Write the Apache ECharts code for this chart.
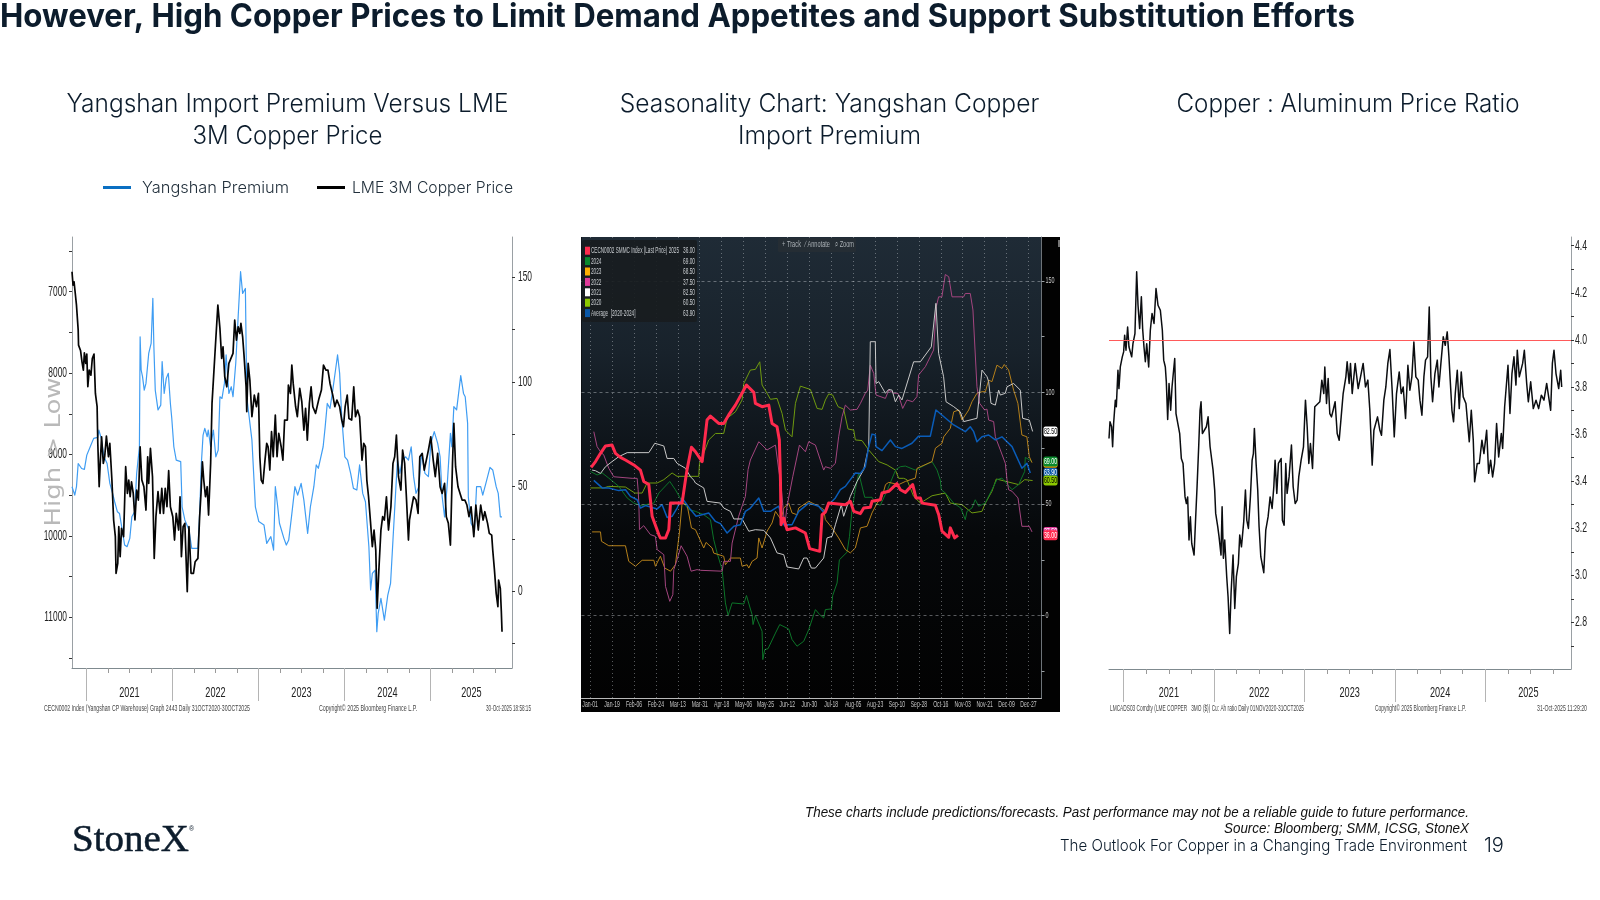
<!DOCTYPE html>
<html>
<head>
<meta charset="utf-8">
<title>Copper demand and substitution</title>
<style>html,body{margin:0;padding:0;background:#fff}#slide{width:1600px;height:900px}</style>
<script src="https://cdn.jsdelivr.net/npm/echarts@6/dist/echarts.min.js"></script>
</head>
<body>
<div id="slide"></div>
<script>
// Daily series sampled at their turning points: [decimal year, value]
const lmeCopper3m = [[2020.832,6755],[2020.844,6919],[2020.856,6878],[2020.868,7001],[2020.884,7165],[2020.904,7472],[2020.908,7656],[2020.932,7726],[2020.948,7861],[2020.964,7963],[2020.976,7750],[2020.992,7881],[2021.004,7767],[2021.016,8168],[2021.032,7963],[2021.052,8025],[2021.068,7820],[2021.088,7767],[2021.104,8250],[2021.124,8413],[2021.132,8864],[2021.148,9396],[2021.16,9109],[2021.176,8782],[2021.196,9109],[2021.212,9028],[2021.232,8774],[2021.256,9028],[2021.272,8864],[2021.296,9314],[2021.316,9805],[2021.336,10010],[2021.344,10460],[2021.364,10338],[2021.376,9887],[2021.392,10256],[2021.408,9908],[2021.432,10010],[2021.456,9150],[2021.476,9478],[2021.492,9314],[2021.508,9519],[2021.524,9335],[2021.544,9478],[2021.564,9805],[2021.584,9437],[2021.604,9560],[2021.624,8905],[2021.644,9314],[2021.668,9396],[2021.692,9683],[2021.712,9028],[2021.724,9355],[2021.744,8925],[2021.768,9273],[2021.788,10276],[2021.808,9764],[2021.832,9457],[2021.856,9724],[2021.876,9416],[2021.896,9724],[2021.916,9416],[2021.936,9642],[2021.956,9199],[2021.976,9642],[2022.004,9764],[2022.024,10051],[2022.044,9724],[2022.072,9928],[2022.088,9519],[2022.104,10256],[2022.124,9887],[2022.144,9846],[2022.172,10686],[2022.192,9887],[2022.216,10460],[2022.244,10460],[2022.264,10317],[2022.296,10276],[2022.316,9764],[2022.332,9478],[2022.348,9089],[2022.364,9314],[2022.384,9519],[2022.404,9396],[2022.42,9744],[2022.444,9109],[2022.46,8372],[2022.476,8372],[2022.492,7799],[2022.508,7513],[2022.528,7165],[2022.552,7451],[2022.572,7820],[2022.588,7677],[2022.608,8045],[2022.632,8168],[2022.656,7881],[2022.676,7881],[2022.704,7758],[2022.724,7349],[2022.744,7595],[2022.764,7431],[2022.784,7513],[2022.796,7390],[2022.816,7554],[2022.832,7779],[2022.856,8168],[2022.864,8475],[2022.88,7881],[2022.9,8086],[2022.924,8536],[2022.952,8270],[2022.976,8413],[2023.0,8250],[2023.016,9028],[2023.032,9314],[2023.052,9355],[2023.076,9069],[2023.096,8864],[2023.112,8905],[2023.132,9191],[2023.152,8720],[2023.172,9028],[2023.196,8516],[2023.216,9028],[2023.236,8741],[2023.264,8905],[2023.284,9069],[2023.304,8577],[2023.336,8577],[2023.348,8147],[2023.372,8250],[2023.388,7902],[2023.404,8127],[2023.432,8413],[2023.452,8536],[2023.48,8188],[2023.504,8352],[2023.528,8700],[2023.548,8434],[2023.568,8823],[2023.592,8372],[2023.612,8168],[2023.632,8413],[2023.664,8495],[2023.704,8311],[2023.732,8209],[2023.756,7902],[2023.784,7963],[2023.808,7963],[2023.832,8127],[2023.864,8270],[2023.888,8413],[2023.912,8331],[2023.944,8413],[2023.968,8577],[2023.988,8659],[2024.008,8413],[2024.032,8270],[2024.052,8557],[2024.084,8577],[2024.108,8168],[2024.128,8536],[2024.152,8454],[2024.176,8536],[2024.204,9069],[2024.224,8864],[2024.244,8905],[2024.26,9314],[2024.28,9519],[2024.304,9846],[2024.324,10133],[2024.344,9928],[2024.364,10174],[2024.38,10890],[2024.4,10420],[2024.424,9928],[2024.444,9764],[2024.464,9805],[2024.488,9519],[2024.512,9928],[2024.54,9642],[2024.564,9109],[2024.584,9028],[2024.604,8761],[2024.628,9273],[2024.656,9437],[2024.676,8946],[2024.70,9109],[2024.72,9519],[2024.744,10051],[2024.756,9805],[2024.776,9683],[2024.804,9519],[2024.832,9560],[2024.856,9724],[2024.876,9028],[2024.904,8987],[2024.928,9191],[2024.952,9069],[2024.976,8946],[2025.004,8782],[2025.032,9069],[2025.056,9273],[2025.084,8987],[2025.112,9396],[2025.136,9478],[2025.164,9355],[2025.184,9764],[2025.208,9846],[2025.232,10113],[2025.256,9109],[2025.272,8618],[2025.292,9150],[2025.32,9396],[2025.344,9478],[2025.368,9560],[2025.4,9560],[2025.424,9621],[2025.448,9764],[2025.472,9642],[2025.504,10010],[2025.528,9621],[2025.556,9928],[2025.584,9621],[2025.612,9805],[2025.632,9703],[2025.664,9846],[2025.684,9969],[2025.712,9990],[2025.724,10174],[2025.744,10420],[2025.764,10706],[2025.784,10870],[2025.792,10543],[2025.812,10645],[2025.824,10932],[2025.832,11177]];
const yangshanPremium = [[2020.832,49.9],[2020.864,45.9],[2020.884,49.9],[2020.904,61],[2020.944,58.6],[2020.976,58.2],[2021.004,65],[2021.024,64.2],[2021.044,69],[2021.084,73],[2021.132,73.5],[2021.144,77],[2021.172,73],[2021.204,64.2],[2021.24,61],[2021.272,51.5],[2021.304,46.7],[2021.328,42.7],[2021.36,37.9],[2021.384,37.1],[2021.416,29.2],[2021.444,22],[2021.472,21.2],[2021.504,25.2],[2021.528,35.5],[2021.56,37.9],[2021.584,56.3],[2021.616,69],[2021.624,121.6],[2021.636,105.7],[2021.652,102.5],[2021.672,96.1],[2021.692,99.3],[2021.724,113.6],[2021.752,118.4],[2021.772,140],[2021.784,116.8],[2021.8,96.1],[2021.832,86.6],[2021.864,88.9],[2021.88,109.7],[2021.904,94.5],[2021.928,101.7],[2021.952,104.1],[2021.976,89.7],[2021.992,82.6],[2022.016,69],[2022.044,62.6],[2022.096,61.9],[2022.112,40.3],[2022.144,34],[2022.192,29.2],[2022.224,20.4],[2022.296,20.4],[2022.316,37.1],[2022.336,61],[2022.356,74.6],[2022.376,77.8],[2022.404,73.8],[2022.416,77],[2022.444,69],[2022.476,77],[2022.504,64.2],[2022.532,67.4],[2022.552,92.9],[2022.576,92.1],[2022.604,99.3],[2022.624,112.9],[2022.656,94.5],[2022.684,97.7],[2022.704,92.9],[2022.736,108.9],[2022.764,131.2],[2022.792,152.7],[2022.816,142.3],[2022.848,144.7],[2022.864,92.9],[2022.896,81.8],[2022.924,72.2],[2022.944,56.3],[2022.964,40.3],[2023.004,33.2],[2023.064,31.6],[2023.096,22.8],[2023.144,26],[2023.176,19.6],[2023.196,49.9],[2023.224,40.3],[2023.244,32.4],[2023.296,25.2],[2023.324,22],[2023.352,24.4],[2023.384,35.5],[2023.424,49.9],[2023.456,45.9],[2023.496,51.5],[2023.528,43.5],[2023.572,27.6],[2023.604,40.3],[2023.644,49.9],[2023.672,60.3],[2023.696,58.7],[2023.752,69],[2023.776,78.6],[2023.8,89.7],[2023.832,87.3],[2023.864,96.1],[2023.896,105.7],[2023.92,112.9],[2023.944,104.1],[2023.968,83.4],[2024.004,64.2],[2024.036,62.6],[2024.072,56.3],[2024.104,49.1],[2024.144,48.3],[2024.176,60.3],[2024.212,46.7],[2024.244,42.7],[2024.284,21.2],[2024.304,0.5],[2024.324,8.4],[2024.356,10],[2024.376,-19.4],[2024.392,-10.7],[2024.424,-3.5],[2024.464,-13.9],[2024.504,-1.9],[2024.536,3.7],[2024.564,24.4],[2024.592,45.1],[2024.616,62.6],[2024.644,56.3],[2024.672,62.6],[2024.712,64.2],[2024.744,62.6],[2024.776,69],[2024.804,54.7],[2024.832,46.7],[2024.864,49.9],[2024.896,65.8],[2024.936,56.3],[2024.976,54.7],[2025.004,70.6],[2025.044,76.2],[2025.084,70.6],[2025.112,64.2],[2025.136,45.1],[2025.164,35.5],[2025.196,51.5],[2025.232,75.4],[2025.248,69],[2025.272,88.2],[2025.304,86.6],[2025.352,103],[2025.384,94.5],[2025.404,92.9],[2025.432,80.2],[2025.44,45.1],[2025.472,32.4],[2025.512,29.2],[2025.536,49.9],[2025.584,49.9],[2025.608,45.9],[2025.644,51.5],[2025.692,59.1],[2025.724,57.9],[2025.764,49.9],[2025.788,46.7],[2025.812,35.5],[2025.832,35.5]];
const copperAluminumRatio = [[2020.838,3.581],[2020.849,3.652],[2020.867,3.631],[2020.878,3.546],[2020.889,3.645],[2020.908,3.744],[2020.919,3.716],[2020.937,3.871],[2020.948,3.793],[2020.963,3.885],[2020.985,3.928],[2021.0,3.949],[2021.011,4.02],[2021.026,3.956],[2021.044,4.055],[2021.059,3.97],[2021.074,3.977],[2021.089,3.928],[2021.103,3.984],[2021.125,4.027],[2021.144,4.289],[2021.159,4.147],[2021.177,4.048],[2021.196,4.183],[2021.21,4.048],[2021.225,3.97],[2021.24,3.907],[2021.255,3.984],[2021.277,3.885],[2021.295,4.041],[2021.314,4.112],[2021.336,4.07],[2021.358,4.218],[2021.38,4.147],[2021.406,4.126],[2021.428,4.041],[2021.443,3.914],[2021.461,3.885],[2021.472,3.822],[2021.487,3.662],[2021.502,3.815],[2021.52,3.701],[2021.535,3.8],[2021.565,3.921],[2021.579,3.687],[2021.601,3.694],[2021.62,3.602],[2021.638,3.496],[2021.657,3.475],[2021.679,3.333],[2021.694,3.305],[2021.708,3.333],[2021.723,3.15],[2021.738,3.249],[2021.753,3.135],[2021.779,3.086],[2021.797,3.249],[2021.812,3.376],[2021.83,3.546],[2021.845,3.701],[2021.856,3.737],[2021.871,3.602],[2021.893,3.602],[2021.915,3.631],[2021.934,3.673],[2021.956,3.546],[2021.974,3.546],[2021.989,3.447],[2022.007,3.362],[2022.018,3.263],[2022.041,3.206],[2022.055,3.164],[2022.077,3.086],[2022.089,3.291],[2022.103,3.072],[2022.118,3.15],[2022.14,2.994],[2022.155,2.909],[2022.173,2.753],[2022.188,2.923],[2022.21,3.086],[2022.229,2.859],[2022.247,2.994],[2022.269,3.05],[2022.284,3.171],[2022.303,3.121],[2022.328,3.227],[2022.347,3.362],[2022.362,3.234],[2022.38,3.199],[2022.402,3.333],[2022.421,3.489],[2022.435,3.517],[2022.446,3.624],[2022.465,3.475],[2022.483,3.362],[2022.498,3.206],[2022.517,3.079],[2022.55,3.011],[2022.572,3.192],[2022.598,3.249],[2022.62,3.333],[2022.642,3.284],[2022.661,3.376],[2022.675,3.489],[2022.694,3.348],[2022.712,3.475],[2022.742,3.496],[2022.756,3.234],[2022.775,3.213],[2022.793,3.475],[2022.808,3.348],[2022.83,3.418],[2022.856,3.553],[2022.875,3.376],[2022.897,3.305],[2022.919,3.319],[2022.937,3.418],[2022.963,3.489],[2022.989,3.546],[2023.011,3.744],[2023.03,3.631],[2023.048,3.475],[2023.066,3.56],[2023.089,3.454],[2023.114,3.716],[2023.133,3.723],[2023.17,3.737],[2023.192,3.829],[2023.214,3.772],[2023.225,3.885],[2023.244,3.73],[2023.262,3.836],[2023.28,3.687],[2023.299,3.673],[2023.317,3.701],[2023.339,3.737],[2023.362,3.602],[2023.384,3.574],[2023.406,3.673],[2023.428,3.772],[2023.458,3.843],[2023.472,3.907],[2023.494,3.815],[2023.509,3.9],[2023.528,3.772],[2023.561,3.9],[2023.594,3.793],[2023.62,3.843],[2023.649,3.9],[2023.675,3.8],[2023.701,3.829],[2023.723,3.701],[2023.749,3.468],[2023.768,3.616],[2023.808,3.673],[2023.834,3.616],[2023.852,3.595],[2023.878,3.744],[2023.9,3.8],[2023.922,3.9],[2023.945,3.959],[2023.97,3.786],[2023.993,3.588],[2024.018,3.772],[2024.048,3.864],[2024.07,3.772],[2024.092,3.8],[2024.118,3.666],[2024.144,3.892],[2024.166,3.786],[2024.188,3.843],[2024.21,3.991],[2024.232,3.843],[2024.258,3.829],[2024.277,3.744],[2024.299,3.68],[2024.321,3.843],[2024.339,3.914],[2024.362,3.928],[2024.38,4.14],[2024.398,3.843],[2024.417,3.737],[2024.443,3.857],[2024.469,3.914],[2024.487,3.8],[2024.509,3.9],[2024.535,4.013],[2024.557,3.977],[2024.579,4.034],[2024.598,3.928],[2024.612,3.829],[2024.631,3.701],[2024.649,3.652],[2024.668,3.772],[2024.69,3.871],[2024.712,3.708],[2024.734,3.864],[2024.756,3.758],[2024.786,3.73],[2024.808,3.631],[2024.823,3.567],[2024.845,3.701],[2024.867,3.574],[2024.882,3.397],[2024.911,3.475],[2024.934,3.475],[2024.963,3.574],[2024.985,3.517],[2025.015,3.616],[2025.037,3.433],[2025.059,3.489],[2025.081,3.418],[2025.103,3.475],[2025.125,3.645],[2025.148,3.503],[2025.177,3.602],[2025.192,3.539],[2025.214,3.716],[2025.251,3.892],[2025.273,3.687],[2025.295,3.857],[2025.317,3.928],[2025.339,3.808],[2025.354,3.956],[2025.376,3.843],[2025.413,3.9],[2025.432,3.956],[2025.458,3.815],[2025.476,3.737],[2025.502,3.822],[2025.531,3.708],[2025.561,3.744],[2025.59,3.708],[2025.62,3.765],[2025.649,3.744],[2025.679,3.815],[2025.723,3.701],[2025.742,3.9],[2025.76,3.956],[2025.782,3.857],[2025.812,3.793],[2025.834,3.871],[2025.845,3.8]];

// Yearly seasonality of the import premium: [day of year, value]
const season2025 = [[0.8,66.4],[4.4,69],[8.5,72.7],[12.6,76],[18,76.4],[20.8,72.7],[24.9,70.9],[29,69.7],[35.9,67.5],[41.3,65.2],[44,60.1],[48.2,58.7],[50.9,44.5],[56.4,36.3],[57.7,34.8],[61.9,34.8],[64.6,38.5],[66,50.4],[75.5,50.4],[78.3,60.9],[79.6,65.4],[83.2,75.4],[86.5,73.4],[92,69],[96,87.6],[98.8,89.4],[105.6,86.1],[109.7,86.1],[113.8,89.9],[119.3,94.3],[128.4,103.3],[134.4,100],[135.7,95.1],[141.2,93.6],[146.7,94.3],[149.4,86.1],[153.5,84.6],[155.4,78.7],[156.3,60.7],[156.8,40.7],[159,43.7],[161.7,38.5],[168.6,39.3],[176.8,37],[180.3,30],[188.6,28.8],[190.5,45.2],[193.2,46.4],[195.9,50.4],[209.6,49.7],[213.7,51.2],[216.5,46.7],[222,45.7],[224.7,48.2],[230.1,48.5],[231.5,51.2],[238.3,51.9],[239.7,54.9],[245.2,55.7],[252,59.1],[254.8,56.4],[258.9,55.2],[264.9,58.7],[267.6,52.7],[271.2,52.7],[272.6,50.4],[283.5,49.4],[286.3,45.2],[289,37.8],[294.5,35.1],[295.8,39.3],[299.4,34.8],[302.1,36]];
const season2024 = [[0.3,64.6],[5.7,63],[9.9,63.9],[15.3,61.6],[23.5,57.9],[30.4,52.7],[35.9,50.4],[41.3,49.3],[52.3,50.4],[56.4,54.9],[65.4,60.1],[70,56.4],[75.5,51.2],[81,47.5],[86.5,46.7],[93.3,45.2],[98.8,43],[101.5,34],[104.3,28],[108.4,20.6],[111.1,5.7],[113.3,0.1],[116.6,5.7],[126.2,5.2],[128.4,9],[133,0.4],[133.8,-4],[135.7,0.1],[141.2,-7],[141.8,-19.7],[143.4,-15.2],[146.1,-14.8],[152.2,-7.8],[155.7,-4],[163.1,-6],[165.8,-10.7],[169.9,-13.7],[175.4,-11.5],[179.5,-6.3],[185,2.7],[188.6,0.4],[191.8,-1],[193.2,2.7],[198.1,3],[199.2,9],[202.8,14.6],[204.7,25],[211,28.4],[213,35.5],[215.1,47.5],[217.8,56.4],[220.6,63.9],[225.5,53],[231.5,53],[234.2,50.4],[238.3,49.4],[244.2,56.4],[251,65.4],[254.8,66.7],[258.9,67],[267,65.2],[280.8,69],[284.9,65.2],[287.6,60.7],[288.4,56.4],[291.7,54.9],[298.6,50.4],[304.4,48.2],[308.1,43],[309.5,46.7],[313.6,48.2],[316.3,51.9],[319.1,49],[324.5,50.4],[330,56.4],[334.1,60.9],[338.2,61.6],[346.5,56.4],[351.9,58.7],[356.9,64.6],[357.4,70.9],[362.9,69]];
const season2023 = [[1.6,37.5],[8.5,37.5],[9.3,33.3],[15.3,31.3],[29,31.3],[31.7,24.3],[37.2,22.1],[42.7,24.8],[52.3,24.8],[53.6,22.1],[57.7,26.6],[61.3,21.3],[66,19.9],[70,22.8],[73.3,37],[75.5,50.4],[79.6,49.7],[83.2,39.3],[86.5,38.5],[93.3,30.3],[95.2,32.8],[100.2,30.3],[101.5,28],[109.7,26.6],[111.1,22.8],[115.2,25.8],[123.4,25.8],[124.8,22.1],[128.9,22.8],[130.3,21.3],[133,24.3],[137.1,25.8],[138.5,34.8],[141.2,30.3],[145.3,37.8],[149.4,41.5],[152.2,46.7],[156.8,43],[159,48.2],[163.1,50.4],[165.8,46],[169.9,45.2],[171.3,48.2],[179.5,51.2],[187.7,49],[191.8,47.5],[193.2,43],[198.7,39.3],[204.1,34.8],[209.6,29.6],[213.7,28.1],[217.8,30.3],[222,39.3],[227.4,40],[231.5,46],[235.7,50.4],[239.9,53.4],[242.6,58.7],[245.2,59.7],[253.4,58.7],[258.9,60.1],[267.1,61.6],[268.5,66],[280.8,69],[283.6,75],[289,77.2],[290.4,80.1],[295.8,83.9],[298.6,91.3],[302.7,92.1],[305.4,87.6],[310.9,92.1],[313.6,95.8],[317.7,99.6],[321.9,100.3],[324.6,100.3],[327.3,105.5],[330,104.8],[334.1,112.2],[338.2,110.7],[340.1,112.5],[343.7,110],[347.8,101],[351.3,95.1],[354.6,80.9],[358.7,80.1],[360.7,71.2],[362.9,68.5]];
const season2022 = [[3,82.4],[5.7,75.7],[8.5,73.4],[11.2,71.9],[15.3,66],[19.4,62.2],[34.5,61.5],[38.6,61.5],[39.4,56.4],[40,50.4],[40.5,38.5],[44,40.3],[49.5,36.3],[53.6,35.5],[55,29.6],[60.5,27.3],[61.9,13.1],[65.4,6.4],[67.9,9.4],[68.7,20.6],[71.4,25.1],[74.7,31.3],[79.6,26.6],[82.9,19.9],[87.8,20.6],[90.6,20.3],[108.4,19.9],[109.7,24.3],[115.2,24.3],[116.6,32.5],[122,44.5],[127.5,53.4],[129.7,65.4],[131.6,69.7],[138.5,77.9],[145.3,74.2],[152.2,76.4],[154.9,65.2],[156.8,58.5],[159.8,40],[161.7,49],[166.4,62.2],[171.9,76.4],[176.8,73.4],[179.5,77.9],[185,76.4],[191.8,65.2],[193.2,66.7],[197.3,66],[201.4,68.2],[204.1,80.1],[206.9,89.1],[209.6,94.3],[213.7,92.1],[219.2,92.4],[222,95.1],[226,99.6],[228,101],[230.1,112.2],[232.9,108.5],[234.8,98.8],[242.5,97.3],[245.2,101],[249.3,99.6],[252.8,99.6],[256.7,92.8],[260.2,96.6],[264.9,95.8],[268.4,98.1],[269.8,107.8],[275.3,111.5],[282.1,119],[284.3,138.4],[286.2,142.8],[288.9,142.8],[291.7,152.8],[294.5,151.8],[297.2,142.8],[306.8,142.8],[308.1,144.3],[312.2,144.3],[314.4,136.9],[317.7,102.5],[319.9,95.1],[324,92.1],[325.9,92.5],[327.3,87.6],[331.4,86.9],[332.8,80.1],[336.9,74.2],[341,68.2],[342.4,60.7],[343.7,56.4],[346.5,55.7],[351.4,52.7],[354.6,40],[360.7,40],[362.9,37.5]];
const season2021 = [[1.6,65.2],[4.4,64.9],[8.5,63.7],[12.6,66.7],[18,69],[23.5,71.2],[30.4,73],[48.2,73],[53.1,77.2],[60.5,76],[63.2,70.4],[68.7,70.4],[71.4,68.2],[78.3,66],[82.4,62.2],[85.1,60.7],[86.5,59.4],[93.3,57.2],[96,51.2],[107,50.4],[109.7,48.2],[115.2,46.7],[118,43.3],[124.8,43.3],[130.3,37.8],[135.7,38.5],[142.6,38.2],[148.1,34.8],[153.5,28.1],[159,27.3],[161.7,21.8],[171.3,20.9],[175.4,25.8],[178.2,25.8],[181.7,21.3],[185,21.3],[191.8,25.8],[193.2,25.8],[194.6,34.8],[198.7,35.5],[201.4,40.7],[206.3,49.7],[208.2,44.5],[213.7,53.4],[219.2,60.1],[224.7,65.4],[228.8,75.7],[230.1,122.7],[234.2,122.7],[234.8,104],[237,104.8],[242.5,99.6],[245.2,101.3],[248,101],[250.7,95.8],[253.4,98.8],[256.1,96.6],[265.7,113.7],[271.2,113.7],[280.2,120.4],[284,139.9],[286.2,117.5],[290.3,107],[292.3,95.8],[298.6,93.6],[304,91.3],[306.8,86.9],[317.7,88.4],[321.8,110],[326,107],[327.3,104.8],[329.2,95.1],[332.8,94.3],[335.5,101],[336.9,98.8],[341,99.6],[342.4,102.5],[347.8,104],[353.3,101],[355.2,88.4],[360.7,87.6],[363.4,82.5]];
const season2020 = [[0.3,57.2],[11.2,57.2],[15.3,57.9],[29,57.6],[36.7,54.9],[42.7,54.9],[46.8,59.4],[55,59.4],[60.5,60.9],[67.3,63.9],[71.4,62.4],[89.2,62.4],[89.8,68.2],[93.3,72.7],[97.4,78.7],[102.9,81.6],[109.7,81.6],[112.5,88.4],[119.3,91.3],[124.8,96.6],[126.2,104],[131.6,110],[135.7,110.3],[139.3,113.7],[141.2,103.3],[145.3,99.6],[148.1,96.9],[153.5,97.3],[157.6,90.6],[160.4,83.1],[165.8,80.1],[168.6,95.1],[172.7,102.8],[180.9,101.3],[186.4,92.8],[190.5,92.4],[193.2,96.6],[195.9,99.3],[199.2,98.8],[203.6,93.6],[208.2,92.5],[211.8,83.6],[216.5,83.1],[217.8,78.7],[223.3,78.4],[228.8,74.2],[237,69],[243.9,67.5],[250.7,65.2],[253.4,61.5],[257.5,61.5],[260.2,60.9],[265.7,53.4],[271.2,50.4],[280.8,53.7],[291.7,54.9],[295.8,50.4],[305.4,49.7],[313.6,46],[321.8,46.7],[324.6,50.4],[330,55.7],[333.6,61.2],[351.9,58.7],[356.9,60.9],[363.4,60.5]];
const seasonAverage = [[3,60.6],[9.9,57.2],[15.3,57.2],[23.5,56],[29,56.4],[33.1,53.4],[38.6,51.9],[41.3,48.2],[45.4,49.3],[55,47.8],[59.1,49.7],[63.2,44],[67.3,44.5],[71.4,48.2],[75.5,52.7],[82.4,47.5],[87,44.5],[97.4,46],[102.9,42.2],[107,41.2],[112.5,37],[118,40],[123.4,40.7],[127.5,46.7],[131.6,48.2],[138.5,52.7],[142.6,46.7],[148.1,46.7],[154.9,49],[159,40.7],[165.8,40.7],[171.3,46.7],[179.5,50.4],[187.7,49],[191.8,46.3],[195.9,49.7],[201.4,52.7],[205.5,56.4],[209.6,57.9],[213.7,60.9],[217.8,63.9],[222,63.7],[226,66.7],[228.8,75.7],[231.5,81.3],[234.2,80.9],[234.8,75.7],[239.7,73.9],[246.6,78.7],[250.7,75.7],[256.1,74.9],[264.3,77.2],[269.8,80.4],[279.4,80.4],[284,92.1],[298.6,85.4],[308.1,82.4],[312.2,84.6],[315,82.4],[317.7,77.9],[321.8,80.1],[327.3,80.9],[332.8,78.7],[338.2,80.1],[346.5,75.7],[354.6,66],[358.7,68.2],[361.5,63.9]];

// Tick positions and labels
const yearStarts = [2021, 2022, 2023, 2024, 2025];
const yearLabels = ['2021', '2022', '2023', '2024', '2025'];
const yearLabelAt = [2021.5, 2022.5, 2023.5, 2024.5, 2025.476];
const quarterTicks = [2021.25,2021.5,2021.75,2022.25,2022.5,2022.75,2023.25,2023.5,2023.75,2024.25,2024.5,2024.75,2025.25,2025.5,2025.75];
const seasonDates = ['Jan-01','Jan-19','Feb-06','Feb-24','Mar-13','Mar-31','Apr-18','May-06','May-25','Jun-12','Jun-30','Jul-18','Aug-05','Aug-23','Sep-10','Sep-28','Oct-16','Nov-03','Nov-21','Dec-09','Dec-27'];
const seasonDays = [0,18,36,54,72,90,108,126,144,162,180,198,216,234,252,270,288,306,324,342,360];
const lmeTicks = [7000, 8000, 9000, 10000, 11000];
const lmeMinorTicks = [6500, 7000, 7500, 8000, 8500, 9000, 9500, 10000, 10500, 11000, 11500];
const premiumTicks = [0, 50, 100, 150];
const premiumMinorTicks = [-25, 0, 25, 50, 75, 100, 125, 150];
const seasonTicks = [0, 50, 100, 150];
const seasonMinorTicks = [-25, 0, 25, 50, 75, 100, 125, 150];
const ratioTicks = [2.8, 3.0, 3.2, 3.4, 3.6, 3.8, 4.0, 4.2, 4.4];
const ratioMinorTicks = [2.6, 2.7, 2.8, 2.9, 3.0, 3.1, 3.2, 3.3, 3.4, 3.5, 3.6, 3.7, 3.8, 3.9, 4.0, 4.1, 4.2, 4.3, 4.4];
const ratioThreshold = 4.0;

// Seasonal legend rows and last values
const seasonNames = ['CECN0002 SMMC Index (Last Price) 2025', '2024', '2023', '2022', '2021', '2020', 'Average  [2020-2024]'];
const seasonLatest = [36.0, 69.0, 68.5, 37.5, 82.5, 60.5, 63.9];
const seasonSwatches = ['#ff2a4d', '#0a8a2e', '#ffb000', '#e03a9a', '#ffffff', '#8cc800', '#0a58a8'];
const seasonLines = ['#ff2a4d', '#0c7428', '#b5801a', '#a3457f', '#c8c8c8', '#6f9a0f', '#0a5cb8'];

const CHART_FONT = '"Liberation Sans",sans-serif';
const SANS = 'Inter,"Noto Sans",sans-serif';
const INK = '#0c1c2c';

// Bitmap-style narrow lettering: text is squeezed to a given width
const measureCtx = document.createElement('canvas').getContext('2d');
const widthOf = (text, font) => { measureCtx.font = font; return measureCtx.measureText(text).width; };

const lineSeries = (name, data, color, width, xi, yi, extra) => Object.assign({
  name, type: 'line', data, xAxisIndex: xi, yAxisIndex: yi, showSymbol: false, symbol: 'none',
  smooth: false, silent: true, z: 3, lineStyle: { color, width, join: 'round' }
}, extra || {});

// Narrow tick labels positioned through the axis scales
const tickLabels = (name, xi, yi, points, labels, o) => ({
  name, type: 'custom', xAxisIndex: xi, yAxisIndex: yi, clip: false, silent: true, z: 8,
  data: points,
  renderItem: (params, api) => {
    const p = api.coord([api.value(0), api.value(1)]);
    return {
      type: 'text', x: p[0] + (o.dx || 0), y: p[1] + (o.dy || 0), scaleX: o.scale, silent: true,
      style: { text: labels[params.dataIndex], font: o.size + 'px ' + CHART_FONT, fill: o.fill || '#222',
        textAlign: o.align || 'center', textVerticalAlign: 'middle' }
    };
  }
});

const yearAxis = (gridIndex, min, max) => ({
  gridIndex, type: 'value', min, max, position: 'bottom', splitLine: { show: false },
  axisLine: { show: true, onZero: false, lineStyle: { color: '#7f8a8f', width: 1 } },
  axisTick: { show: true, customValues: quarterTicks, length: 5, lineStyle: { color: '#9a9a9a' } },
  axisLabel: { show: false }
});
const yearLongTicks = (gridIndex, min, max) => ({
  gridIndex, type: 'value', min, max, position: 'bottom', splitLine: { show: false },
  axisLine: { show: false, onZero: false },
  axisTick: { show: true, customValues: yearStarts, length: 33, lineStyle: { color: '#b4b4b4' } },
  axisLabel: { show: false }
});
const valueAxis = (gridIndex, position, min, max, minor, extra) => Object.assign({
  gridIndex, type: 'value', position, min, max, splitLine: { show: false },
  axisLine: { show: true, onZero: false, lineStyle: { color: '#9aa0a4', width: 1 } },
  axisTick: { show: true, customValues: minor, length: 3, lineStyle: { color: '#333' } },
  axisLabel: { show: false }
}, extra || {});

const textEl = (text, x, y, font, fill, align, extra) => Object.assign({
  type: 'text', x, y, silent: true, z: 20,
  style: { text, font, fill, textAlign: align || 'left', textVerticalAlign: 'middle' }
}, extra || {});
// Text squeezed or stretched so that it spans the given width
const fitEl = (text, x, y, width, font, fill, align, extra) =>
  textEl(text, x, y, font, fill, align, Object.assign({ scaleX: width / widthOf(text, font) }, extra || {}));
const rectEl = (x, y, width, height, fill, z, r) => ({
  type: 'rect', silent: true, z: z === undefined ? 20 : z,
  shape: { x, y, width, height, r: r || 0 }, style: { fill }
});

const PRINT = '9.5px ' + CHART_FONT;
const finePrint = (x, y, width, text) => fitEl(text, x, y, width, PRINT, '#444');
const HEAD = '300 25px ' + SANS;

const graphicElements = [
  // Slide headline and chart headings
  fitEl('However, High Copper Prices to Limit Demand Appetites and Support Substitution Efforts', 0, 17, 1355, '700 32px ' + SANS, INK),
  fitEl('Yangshan Import Premium Versus LME', 287.5, 104, 442, HEAD, INK, 'center'),
  fitEl('3M Copper Price', 287.5, 136, 190, HEAD, INK, 'center'),
  fitEl('Seasonality Chart: Yangshan Copper', 829.5, 104, 419.5, HEAD, INK, 'center'),
  fitEl('Import Premium', 829.5, 136, 183, HEAD, INK, 'center'),
  fitEl('Copper : Aluminum Price Ratio', 1348, 104, 343, HEAD, INK, 'center'),

  // Legend of the first panel
  rectEl(103, 186, 28, 3, '#0a6fc2'),
  fitEl('Yangshan Premium', 142, 188.5, 147, '300 16.5px ' + SANS, '#22303c'),
  rectEl(317, 186, 28, 3, '#000'),
  fitEl('LME 3M Copper Price', 352, 188.5, 161, '300 16.5px ' + SANS, '#22303c'),

  // Axis direction note
  textEl('High > Low', 54.5, 452, '22px "DejaVu Sans"', '#b9b9b9', 'center', { rotation: Math.PI / 2, scaleX: 1.18 }),

  // Data credits under the two light panels
  finePrint(44, 708, 206, 'CECN0002 Index (Yangshan CP Warehouse) Graph 2443 Daily 31OCT2020-30OCT2025'),
  finePrint(319, 708, 98, 'Copyright\u00a9 2025 Bloomberg Finance L.P.'),
  finePrint(486, 708, 45, '30-Oct-2025 18:58:15'),
  finePrint(1110, 708, 194, 'LMCADS03 Comdty (LME COPPER   3MO ($)) Cu: Ah ratio Daily 01NOV2020-31OCT2025'),
  finePrint(1375, 708, 91, 'Copyright\u00a9 2025 Bloomberg Finance L.P.'),
  finePrint(1537, 708, 50, '31-Oct-2025 11:29:20'),

  // Dark terminal frame behind the seasonality panel
  rectEl(581, 237, 479, 475, '#020202', -10),

  // Seasonality legend box
  rectEl(582, 240, 115, 82, 'rgba(24,28,32,0.92)', 10, 2),
  // Terminal toolbar
  rectEl(778, 238, 78, 14, '#252d34', 10, 1),
  fitEl('+ Track', 782, 245, 19, '9px ' + CHART_FONT, '#aab0b5', 'left', { z: 11 }),
  fitEl('\u2215 Annotate', 805, 245, 25, '9px ' + CHART_FONT, '#aab0b5', 'left', { z: 11 }),
  fitEl('\u2315 Zoom', 835, 245, 19, '9px ' + CHART_FONT, '#aab0b5', 'left', { z: 11 }),
  rectEl(1058, 240, 2, 7, '#777', 10),

  // Footer
  fitEl('These charts include predictions/forecasts. Past performance may not be a reliable guide to future performance.', 1469, 813, 664, 'italic 14px "Liberation Sans"', '#111', 'right'),
  fitEl('Source: Bloomberg; SMM, ICSG, StoneX', 1469, 829, 245, 'italic 14px "Liberation Sans"', '#111', 'right'),
  fitEl('The Outlook For Copper in a Changing Trade Environment', 1467, 846, 407, '300 16.5px ' + SANS, INK, 'right'),
  textEl('19', 1484, 846, '300 20px ' + SANS, INK),
  fitEl('StoneX', 72, 841, 117, '38px "Liberation Serif"', INK, 'left', { style: { text: 'StoneX', font: '38px "Liberation Serif"', fill: INK, stroke: INK, lineWidth: 0.5, textVerticalAlign: 'middle' } }),
  textEl('\u00ae', 189, 829, '7px "Liberation Sans"', INK)
];

// Legend rows of the seasonality panel, built from the names and last values
const LEGEND_FONT = '9.5px ' + CHART_FONT;
const legendScale = 88 / widthOf(seasonNames[0], LEGEND_FONT);
seasonNames.forEach((name, i) => {
  const y = 250.7 + i * 10.4;
  graphicElements.push(rectEl(585, y - 4, 5, 8, seasonSwatches[i], 11));
  graphicElements.push(textEl(name, 591, y, LEGEND_FONT, '#c8ccd0', 'left', { z: 11, scaleX: legendScale }));
  graphicElements.push(textEl(seasonLatest[i].toFixed(2), 695, y, LEGEND_FONT, '#c8ccd0', 'right', { z: 11, scaleX: 0.5 }));
});

// Value badges on the right edge of the seasonality panel
const badgeOrder = [82.5, 37.5, 36.0, 68.5, 63.9, 69.0, 60.5];
const badgeColours = { 36: ['#ff2a4d', '#fff'], 69: ['#0a8a2e', '#fff'], 68.5: ['#e0a010', '#000'], 37.5: ['#e03a9a', '#fff'], 82.5: ['#ffffff', '#000'], 60.5: ['#8cc800', '#000'], 63.9: ['#0a58a8', '#fff'] };
const BADGE_DAY = 378.1;

const X1 = [2020.832, 2025.948], X3 = [2020.838, 2025.948];
const Y1L = [6328, 11623], Y1R = [-36.8, 169.3], Y2 = [-36.9, 169.6], Y3 = [2.602, 4.437];
const SEASON_X = [-7.1, 370.7];

const option = {
  animation: false,
  backgroundColor: '#ffffff',
  grid: [
    { left: 72, top: 237, width: 440, height: 431, show: false },
    { left: 581.5, top: 237, width: 460, height: 461, show: true, borderWidth: 0,
      backgroundColor: { type: 'linear', x: 0, y: 0, x2: 0, y2: 1, colorStops: [
        { offset: 0, color: '#1f2b36' }, { offset: 0.25, color: '#18222b' },
        { offset: 0.5, color: '#0c1116' }, { offset: 0.65, color: '#06080a' }, { offset: 1, color: '#020202' } ] } },
    { left: 1109, top: 237, width: 462, height: 432, show: false }
  ],
  xAxis: [
    yearAxis(0, X1[0], X1[1]),
    yearLongTicks(0, X1[0], X1[1]),
    {
      gridIndex: 1, type: 'value', min: SEASON_X[0], max: SEASON_X[1], position: 'bottom', splitLine: { show: false },
      axisLine: { show: true, onZero: false, lineStyle: { color: '#b8b8b8', width: 1 } },
      axisTick: { show: false }, axisLabel: { show: false }
    },
    yearAxis(2, X3[0], X3[1]),
    yearLongTicks(2, X3[0], X3[1])
  ],
  yAxis: [
    valueAxis(0, 'left', Y1L[0], Y1L[1], lmeMinorTicks, { inverse: true }),
    valueAxis(0, 'right', Y1R[0], Y1R[1], premiumMinorTicks),
    valueAxis(1, 'right', Y2[0], Y2[1], seasonMinorTicks, {
      axisLine: { show: true, onZero: false, lineStyle: { color: '#6d7378', width: 1 } },
      axisTick: { show: true, customValues: seasonMinorTicks, length: 3, lineStyle: { color: '#9aa0a4' } }
    }),
    valueAxis(2, 'right', Y3[0], Y3[1], ratioMinorTicks)
  ],
  series: [
    lineSeries('Yangshan Premium', yangshanPremium, '#3f9df3', 1.2, 0, 1),
    lineSeries('LME 3M Copper Price', lmeCopper3m, '#050505', 1.7, 0, 0, { z: 4 }),
    tickLabels('LME ticks', 0, 0, lmeTicks.map(v => [X1[0], v]), lmeTicks.map(String), { dx: -5, align: 'right', size: 14, scale: 0.6 }),
    tickLabels('Premium ticks', 0, 1, premiumTicks.map(v => [X1[1], v]), premiumTicks.map(String), { dx: 6, align: 'left', size: 14, scale: 0.6 }),
    tickLabels('Year labels', 0, 0, yearLabelAt.map(x => [x, Y1L[1]]), yearLabels, { dy: 25, size: 14.5, scale: 0.63 }),

    // Dotted and dashed rules of the dark panel
    {
      name: 'Season rules', type: 'line', data: [], xAxisIndex: 2, yAxisIndex: 2, z: 1, silent: true,
      markLine: {
        silent: true, symbol: ['none', 'none'], animation: false, label: { show: false },
        data: seasonDays.map(d => ({ xAxis: d, lineStyle: { type: [1, 3], color: 'rgba(205,210,215,0.42)', width: 1 } }))
          .concat(seasonTicks.map(v => ({ yAxis: v, lineStyle: { type: [3, 3], color: 'rgba(205,210,215,0.42)', width: 1 } })))
      }
    },
    lineSeries('2020', season2020, seasonLines[5], 1, 2, 2),
    lineSeries('2024', season2024, seasonLines[1], 1, 2, 2),
    lineSeries('2023', season2023, seasonLines[2], 1, 2, 2),
    lineSeries('2022', season2022, seasonLines[3], 1, 2, 2),
    lineSeries('2021', season2021, seasonLines[4], 1, 2, 2),
    lineSeries('Average', seasonAverage, seasonLines[6], 1.5, 2, 2, { z: 4 }),
    lineSeries('2025', season2025, seasonLines[0], 3, 2, 2, { z: 5 }),
    tickLabels('Season ticks', 2, 2, seasonTicks.map(v => [SEASON_X[1], v]), seasonTicks.map(String), { dx: 4, align: 'left', size: 9, scale: 0.6, fill: '#c4c4c4' }),
    tickLabels('Season dates', 2, 2, seasonDays.map(d => [d, Y2[0]]), seasonDates, { dy: 7, size: 8.5, scale: 0.6, fill: '#c4c4c4' }),
    {
      name: 'Latest', type: 'custom', xAxisIndex: 2, yAxisIndex: 2, clip: false, silent: true, z: 7,
      data: badgeOrder.map(v => [BADGE_DAY, v]),
      renderItem: (params, api) => {
        const v = api.value(1), p = api.coord([api.value(0), v]), c = badgeColours[v];
        return {
          type: 'group', silent: true, children: [
            { type: 'rect', shape: { x: p[0] - 7, y: p[1] - 5, width: 14, height: 10, r: 2 }, style: { fill: c[0] } },
            { type: 'text', x: p[0], y: p[1], scaleX: 0.62, style: { text: v.toFixed(2), font: '8.5px ' + CHART_FONT, fill: c[1], textAlign: 'center', textVerticalAlign: 'middle' } }
          ]
        };
      }
    },

    lineSeries('Cu:Al ratio', copperAluminumRatio, '#0b0d10', 1.5, 3, 3, {
      markLine: {
        silent: true, symbol: ['none', 'none'], animation: false, label: { show: false },
        lineStyle: { type: 'solid', color: '#ff5a5a', width: 1.2 },
        data: [{ yAxis: ratioThreshold }]
      }
    }),
    tickLabels('Ratio ticks', 3, 3, ratioTicks.map(v => [X3[1], v]), ratioTicks.map(v => v.toFixed(1)), { dx: 4, align: 'left', size: 14, scale: 0.62 }),
    tickLabels('Year labels 3', 3, 3, yearLabelAt.map(x => [x, Y3[0]]), yearLabels, { dy: 24, size: 14.5, scale: 0.63 })
  ],
  graphic: { elements: graphicElements }
};

const chart = echarts.init(document.getElementById('slide'), null, { renderer: 'canvas', width: 1600, height: 900 });
chart.setOption(option);
</script>
</body>
</html>
